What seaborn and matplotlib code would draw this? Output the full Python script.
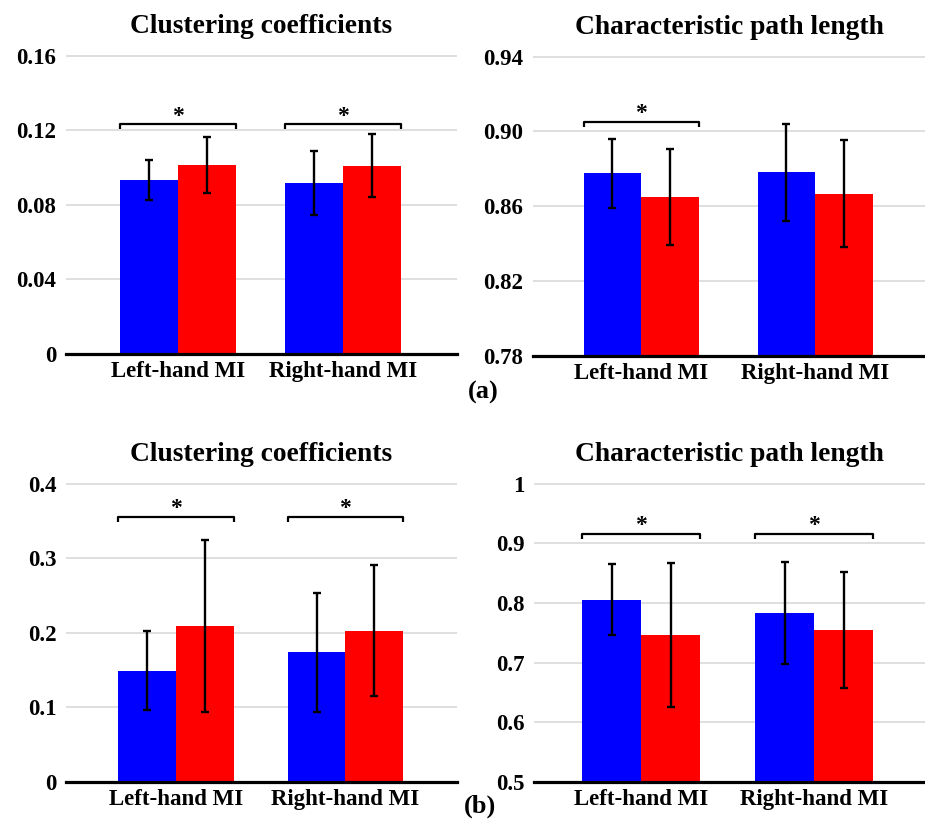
import numpy as np
import pandas as pd
import matplotlib
matplotlib.use("Agg")
import matplotlib.pyplot as plt
import seaborn as sns
from matplotlib.transforms import blended_transform_factory

# ---------------- data ----------------
categories = ["Left-hand MI", "Right-hand MI"]
conditions = ["Condition 1", "Condition 2"]
bar_colors = ["#0000FF", "#FF0000"]

# (a) Clustering coefficients
a_cc_cond1 = [0.0935, 0.0915]
a_cc_cond2 = [0.1013, 0.1010]
a_cc_cond1_err = [0.0107, 0.0172]
a_cc_cond2_err = [0.0150, 0.0168]
a_cc_sig = [True, True]
a_cc_ticks = [0, 0.04, 0.08, 0.12, 0.16]
a_cc_ticklabels = ["0", "0.04", "0.08", "0.12", "0.16"]

# (a) Characteristic path length
a_cpl_cond1 = [0.8776, 0.8781]
a_cpl_cond2 = [0.8650, 0.8668]
a_cpl_cond1_err = [0.0184, 0.0257]
a_cpl_cond2_err = [0.0257, 0.0284]
a_cpl_sig = [True, False]
a_cpl_ticks = [0.78, 0.82, 0.86, 0.90, 0.94]
a_cpl_ticklabels = ["0.78", "0.82", "0.86", "0.90", "0.94"]

# (b) Clustering coefficients
b_cc_cond1 = [0.149, 0.174]
b_cc_cond2 = [0.2095, 0.2028]
b_cc_cond1_err = [0.053, 0.0795]
b_cc_cond2_err = [0.115, 0.088]
b_cc_sig = [True, True]
b_cc_ticks = [0, 0.1, 0.2, 0.3, 0.4]
b_cc_ticklabels = ["0", "0.1", "0.2", "0.3", "0.4"]

# (b) Characteristic path length
b_cpl_cond1 = [0.8053, 0.7831]
b_cpl_cond2 = [0.7463, 0.7542]
b_cpl_cond1_err = [0.0597, 0.086]
b_cpl_cond2_err = [0.121, 0.0975]
b_cpl_sig = [True, True]
b_cpl_ticks = [0.5, 0.6, 0.7, 0.8, 0.9, 1.0]
b_cpl_ticklabels = ["0.5", "0.6", "0.7", "0.8", "0.9", "1"]

title_cc = "Clustering coefficients"
title_cpl = "Characteristic path length"

# ---------------- style ----------------
sns.set_theme(style="white")
plt.rcParams["font.family"] = ["Liberation Serif", "DejaVu Serif"]
plt.rcParams["font.weight"] = "bold"
plt.rcParams["text.color"] = "black"
plt.rcParams["xtick.color"] = "black"
plt.rcParams["ytick.color"] = "black"
plt.rcParams["axes.labelcolor"] = "black"

W, H = 925, 826
fig = plt.figure(figsize=(W / 100, H / 100), dpi=100)


def px_axes(x0, x1, ytop, ybot):
    return [x0 / W, 1 - ybot / H, (x1 - x0) / W, (ybot - ytop) / H]


panels = [
    dict(rect=px_axes(66, 457, 55, 354), c1=a_cc_cond1, c2=a_cc_cond2,
         e1=a_cc_cond1_err, e2=a_cc_cond2_err, sig=a_cc_sig, ticks=a_cc_ticks,
         labels=a_cc_ticklabels, title=title_cc, xlim=(-0.68, 1.69),
         width=0.70, brk=0.768),
    dict(rect=px_axes(533, 925, 56, 356), c1=a_cpl_cond1, c2=a_cpl_cond2,
         e1=a_cpl_cond1_err, e2=a_cpl_cond2_err, sig=a_cpl_sig, ticks=a_cpl_ticks,
         labels=a_cpl_ticklabels, title=title_cpl, xlim=(-0.62, 1.63),
         width=0.66, brk=0.781),
    dict(rect=px_axes(66, 457, 483, 782), c1=b_cc_cond1, c2=b_cc_cond2,
         e1=b_cc_cond1_err, e2=b_cc_cond2_err, sig=b_cc_sig, ticks=b_cc_ticks,
         labels=b_cc_ticklabels, title=title_cc, xlim=(-0.65, 1.66),
         width=0.68, brk=0.886),
    dict(rect=px_axes(534, 925, 483, 782), c1=b_cpl_cond1, c2=b_cpl_cond2,
         e1=b_cpl_cond1_err, e2=b_cpl_cond2_err, sig=b_cpl_sig, ticks=b_cpl_ticks,
         labels=b_cpl_ticklabels, title=title_cpl, xlim=(-0.62, 1.64),
         width=0.68, brk=0.830),
]

for p in panels:
    ax = fig.add_axes(p["rect"])
    df = pd.DataFrame({
        "category": categories * 2,
        "condition": [conditions[0]] * 2 + [conditions[1]] * 2,
        "value": list(p["c1"]) + list(p["c2"]),
    })
    sns.barplot(data=df, x="category", y="value", hue="condition",
                order=categories, hue_order=conditions,
                palette=bar_colors, saturation=1, width=p["width"],
                errorbar=None, legend=False, linewidth=0, ax=ax)

    # error bars at bar centres (sorted left to right)
    bars = sorted(ax.patches, key=lambda r: r.get_x())
    errs_sorted = [p["e1"][0], p["e2"][0], p["e1"][1], p["e2"][1]]
    xs = [b.get_x() + b.get_width() / 2 for b in bars]
    ys = [b.get_y() + b.get_height() for b in bars]
    ax.errorbar(xs, ys, yerr=errs_sorted, fmt="none", ecolor="black",
                elinewidth=1.7, capsize=3, capthick=1.7, zorder=5)

    lo, hi = p["ticks"][0], p["ticks"][-1]
    ax.set_ylim(lo, hi + (hi - lo) * 0.002)
    ax.set_xlim(*p["xlim"])
    ax.set_yticks(p["ticks"])
    ax.set_yticklabels(p["labels"], fontsize=16.5, fontweight="bold")
    ax.set_xticks(range(len(categories)))
    ax.set_xticklabels(categories, fontsize=16.5, fontweight="bold")
    ax.tick_params(axis="both", length=0, labelcolor="black")
    ax.tick_params(axis="y", pad=7)
    ax.tick_params(axis="x", pad=5)
    ax.set_xlabel("")
    ax.set_ylabel("")
    ax.yaxis.grid(True, color="#d9d9d9", linewidth=1.2)
    ax.xaxis.grid(False)
    ax.set_axisbelow(True)
    for s in ["top", "left", "right"]:
        ax.spines[s].set_visible(False)
    ax.spines["bottom"].set_color("black")
    ax.spines["bottom"].set_linewidth(2.3)
    ax.set_title(p["title"], fontsize=19.8, fontweight="bold", pad=16,
                 color="black")

    # significance brackets
    trans = blended_transform_factory(ax.transData, ax.transAxes)
    half = p["width"] / 2
    drop = 0.017
    for i, s in enumerate(p["sig"]):
        if not s:
            continue
        x0, x1 = i - half, i + half
        yb = p["brk"]
        ax.plot([x0, x0, x1, x1], [yb - drop, yb, yb, yb - drop],
                color="black", linewidth=1.6, transform=trans, clip_on=False,
                solid_capstyle="butt")
        ax.annotate("*", xy=(i, yb), xycoords=trans, xytext=(0, 2),
                    textcoords="offset points", ha="center", va="baseline",
                    fontsize=17, fontweight="bold", color="black")

fig.text(483 / W, 1 - 392 / H, "(a)", ha="center", va="center",
         fontsize=19, fontweight="bold", color="black")
fig.text(480 / W, 1 - 806 / H, "(b)", ha="center", va="center",
         fontsize=19, fontweight="bold", color="black")

fig.savefig("out.png", dpi=100)
